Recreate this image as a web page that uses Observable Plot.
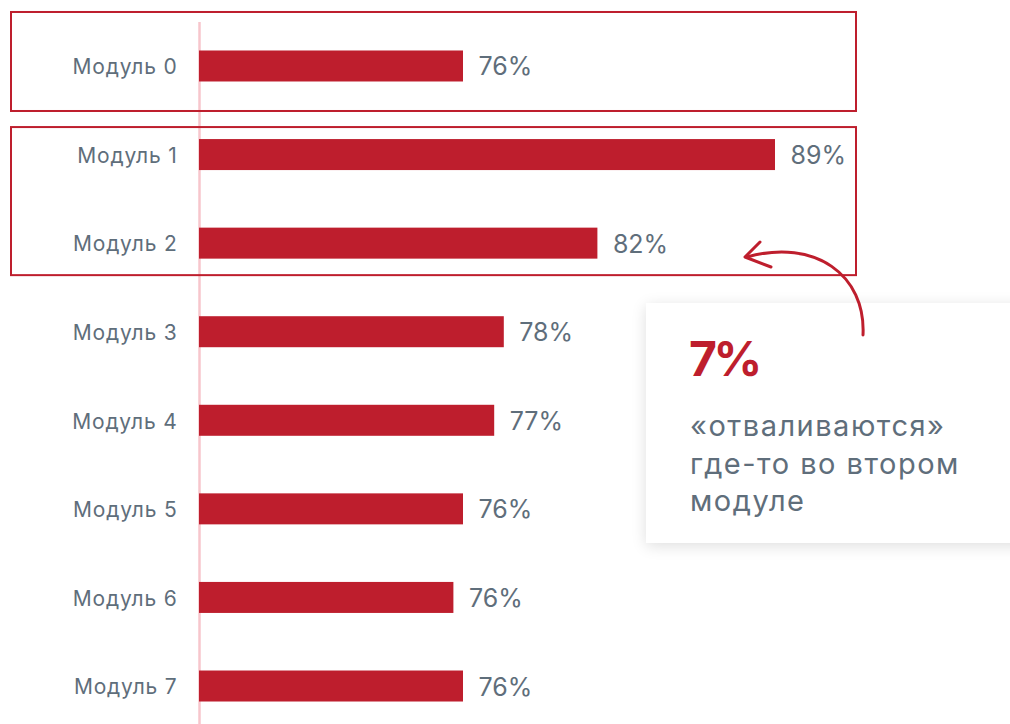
<!DOCTYPE html>
<html>
<head>
<meta charset="utf-8">
<script src="https://cdn.jsdelivr.net/npm/d3@7"></script>
<script src="https://cdn.jsdelivr.net/npm/@observablehq/plot@0.6"></script>
<style>
  html, body { margin: 0; padding: 0; background: #fff; }
  #wrap { position: relative; width: 1010px; height: 724px; overflow: hidden; font-family: Inter, "Noto Sans", sans-serif; }
  #card { position: absolute; left: 646px; top: 303px; width: 400px; height: 240px; background: #fff;
          box-shadow: 0 3px 14px rgba(0,0,0,0.13); box-sizing: border-box; }
  #overlay { position: absolute; left: 0; top: 0; pointer-events: none; }
</style>
</head>
<body>
<div id="wrap"></div>
<script>
const modules = ["Модуль 0","Модуль 1","Модуль 2","Модуль 3","Модуль 4","Модуль 5","Модуль 6","Модуль 7"];
const values  = [76, 89, 81.6, 77.7, 77.3, 76, 75.6, 76];
const labels  = ["76%","89%","82%","78%","77%","76%","76%","76%"];
const calloutValue = "7%";
const calloutLines = ["«отваливаются»", "где-то во втором", "модуле"];

const data = modules.map((m, i) => ({module: m, value: values[i], label: labels[i]}));
const red = "#be1e2d";
const gray = "#5f6e7b";
const xMin = 65;

const chart = Plot.plot({
  width: 1010,
  height: 724,
  marginLeft: 199,
  marginRight: 235,
  marginTop: 22,
  marginBottom: 0,
  style: {fontFamily: "Inter, 'Noto Sans', sans-serif", background: "transparent"},
  x: {domain: [xMin, 89], axis: null},
  y: {domain: modules, range: [6.2, 745.8], paddingInner: 0.65, paddingOuter: 0.5, round: false, label: null},
  marks: [
    Plot.ruleX([xMin], {stroke: "#f7c6cc", strokeWidth: 2.5}),
    Plot.barX(data, {y: "module", x1: xMin, x2: "value", fill: red}),
    Plot.text(data, {y: "module", x: "value", text: "label", dx: 15, dy: 1, textAnchor: "start", fontSize: 25, fill: gray}),
    Plot.axisY({tickSize: 0, tickPadding: 22, fontSize: 21, fill: gray, label: null, dy: 1})
  ]
});

// slightly wider tracking on the row labels
d3.select(chart).selectAll("g[aria-label='y-axis tick label'] text").style("letter-spacing", "0.8px");

const wrap = document.getElementById("wrap");
chart.style.position = "absolute";
chart.style.left = "0px";
chart.style.top = "0px";
wrap.appendChild(chart);

// annotation boxes around rows
const ys = chart.scale("y");
const bw = ys.bandwidth;
const ov = d3.select(wrap).append("svg").attr("id", "overlay").attr("width", 1010).attr("height", 724);
const boxes = [
  {from: "Модуль 0", to: "Модуль 0", padTop: 38.5, padBottom: 29.5},
  {from: "Модуль 1", to: "Модуль 2", padTop: 12, padBottom: 16.5}
];
boxes.forEach(b => {
  const top = ys.apply(b.from) - b.padTop;
  const bot = ys.apply(b.to) + bw + b.padBottom;
  ov.append("rect").attr("x", 11).attr("y", top)
    .attr("width", 845).attr("height", bot - top)
    .attr("fill", "none").attr("stroke", red).attr("stroke-width", 2);
});

// callout card
const card = d3.select(wrap).append("div").attr("id", "card");
card.append("div").text(calloutValue)
  .style("position", "absolute").style("left", "43px").style("top", "26px")
  .style("font-size", "48px").style("font-weight", "700").style("color", red)
  .style("line-height", "60px").style("letter-spacing", "-3.5px");
const body = card.append("div")
  .style("position", "absolute").style("left", "44px").style("top", "104px")
  .style("font-size", "29px").style("line-height", "37.5px").style("color", gray)
  .style("letter-spacing", "1.5px");
calloutLines.forEach(l => body.append("div").text(l));

// arrow (above card)
const ar = d3.select(wrap).append("svg").attr("width", 1010).attr("height", 724)
  .style("position", "absolute").style("left", "0px").style("top", "0px");
ar.append("path").attr("d", "M 863 335 C 866 275, 815 238, 747 257")
  .attr("fill", "none").attr("stroke", red).attr("stroke-width", 3).attr("stroke-linecap", "round");
ar.append("path").attr("d", "M 760 242 L 745 257 L 771 267")
  .attr("fill", "none").attr("stroke", red).attr("stroke-width", 3).attr("stroke-linecap", "round").attr("stroke-linejoin", "round");
</script>
</body>
</html>
